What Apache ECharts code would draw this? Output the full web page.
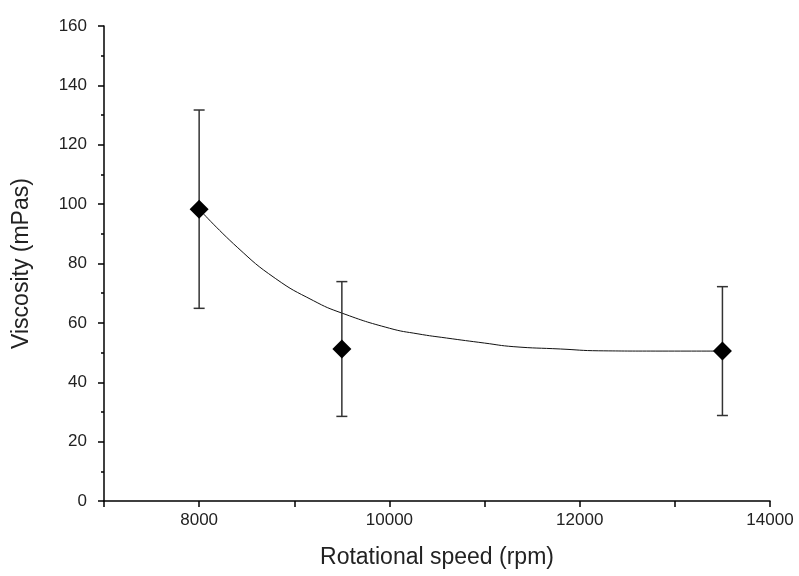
<!DOCTYPE html>
<html>
<head>
<meta charset="utf-8">
<script src="https://cdn.jsdelivr.net/npm/echarts@6/dist/echarts.min.js"></script>
<style>html,body{margin:0;padding:0;background:#fff;}#c{width:799px;height:576px;}</style>
</head>
<body>
<div id="c"></div>
<script>
// Measured points
const speeds = [8000, 9500, 13500];
const viscosity = [98.3, 51.2, 50.5];
const errors = [33.4, 22.7, 21.7];
// Fitted curve
const curveX = [8000, 8400, 8800, 9200, 9500, 10000, 10300, 10600, 11000, 11300, 11800, 12200, 12800, 13500];
const curveY = [98.3, 85.5, 75, 67.5, 63.3, 58.2, 56.3, 54.9, 53.2, 52, 51.2, 50.6, 50.5, 50.5];
const xLabels = [8000, 10000, 12000, 14000];

const font = 'Liberation Sans, Arial, sans-serif';
const chart = echarts.init(document.getElementById('c'), null, {renderer: 'canvas'});
const pts = speeds.map((s, i) => [s, viscosity[i], errors[i]]);
const curve = curveX.map((x, i) => [x, curveY[i]]);

chart.setOption({
  animation: false,
  backgroundColor: '#fff',
  grid: {left: 104, right: 29, top: 26, bottom: 75, containLabel: false},
  xAxis: {
    type: 'value', min: 7000, max: 14000, interval: 1000,
    name: 'Rotational speed (rpm)', nameLocation: 'middle', nameGap: 45,
    nameTextStyle: {fontFamily: font, fontSize: 23, color: '#222'},
    axisLine: {show: true, onZero: false, lineStyle: {color: '#000', width: 1.5}},
    axisTick: {show: true, inside: false, length: 6, lineStyle: {color: '#000', width: 1.5}},
    axisLabel: {
      fontFamily: font, fontSize: 17, color: '#222', margin: 11,
      formatter: v => xLabels.indexOf(v) >= 0 ? String(v) : ''
    },
    splitLine: {show: false}
  },
  yAxis: {
    type: 'value', min: 0, max: 160, interval: 20,
    name: 'Viscosity (mPas)', nameLocation: 'middle', nameGap: 71,
    nameTextStyle: {fontFamily: font, fontSize: 23, color: '#222'},
    axisLine: {show: true, onZero: false, lineStyle: {color: '#000', width: 1.5}},
    axisTick: {show: true, inside: false, length: 6, lineStyle: {color: '#000', width: 1.5}},
    minorTick: {show: true, splitNumber: 2, length: 3, lineStyle: {color: '#000', width: 1.5}},
    axisLabel: {fontFamily: font, fontSize: 17, color: '#222', margin: 17},
    splitLine: {show: false}
  },
  series: [
    {
      type: 'line', data: curve, smooth: true, showSymbol: false, z: 1,
      lineStyle: {color: '#111', width: 1}
    },
    {
      type: 'custom', data: pts, z: 2,
      renderItem: function (params, api) {
        const x = api.value(0), y = api.value(1), e = api.value(2);
        const top = api.coord([x, y + e]);
        const bot = api.coord([x, y - e]);
        const hw = 5.5;
        const style = {stroke: '#333', lineWidth: 1.5};
        return {
          type: 'group',
          children: [
            {type: 'line', shape: {x1: top[0], y1: top[1], x2: bot[0], y2: bot[1]}, style: style},
            {type: 'line', shape: {x1: top[0] - hw, y1: top[1], x2: top[0] + hw, y2: top[1]}, style: style},
            {type: 'line', shape: {x1: bot[0] - hw, y1: bot[1], x2: bot[0] + hw, y2: bot[1]}, style: style}
          ]
        };
      }
    },
    {
      type: 'scatter', data: pts.map(p => [p[0], p[1]]), z: 3,
      symbol: 'diamond', symbolSize: [19, 19],
      itemStyle: {color: '#000', opacity: 1}
    }
  ]
});
</script>
</body>
</html>
